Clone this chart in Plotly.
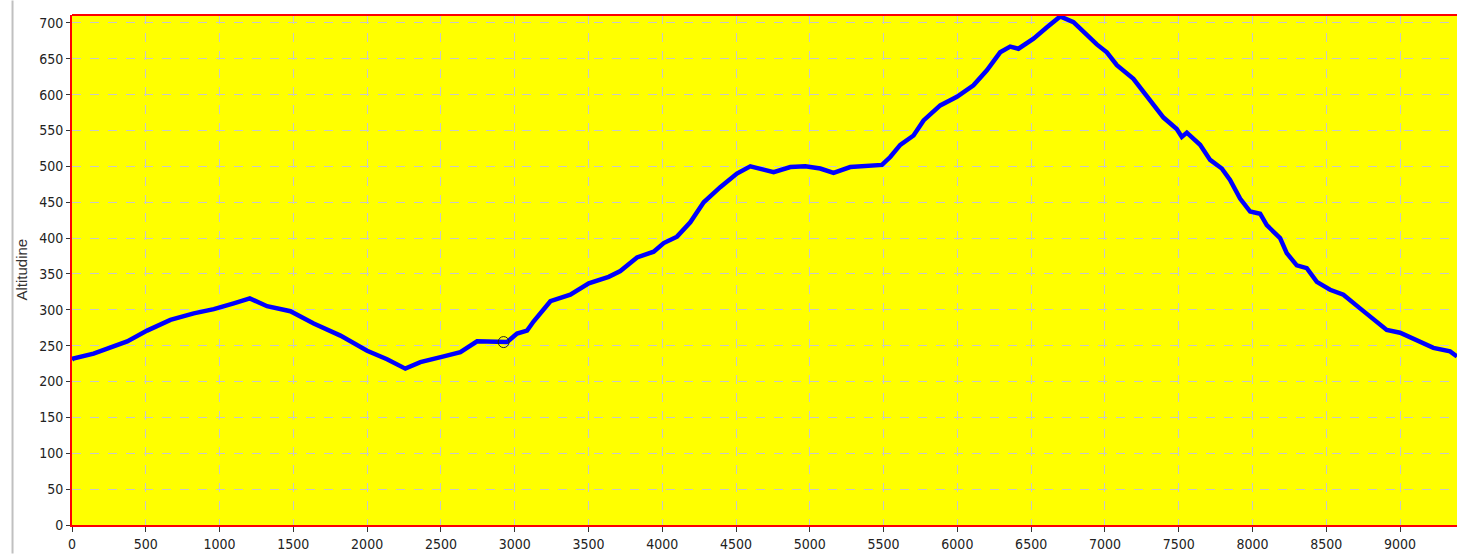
import plotly.graph_objects as go

distance = [0, 8, 146, 261, 374, 509, 667, 825, 961, 1096, 1205, 1322, 1480, 1638, 1819,
            2000, 2135, 2259, 2361, 2519, 2632, 2745, 2857, 2948, 3016, 3084, 3129, 3242,
            3377, 3502, 3637, 3716, 3829, 3942, 4010, 4100, 4190, 4281, 4393, 4506, 4597,
            4755, 4868, 4969, 5071, 5161, 5274, 5387, 5489, 5545, 5613, 5703, 5771, 5884,
            5997, 6109, 6200, 6290, 6358, 6414, 6516, 6607, 6697, 6787, 6878, 6945, 7013,
            7081, 7193, 7284, 7397, 7487, 7521, 7555, 7645, 7713, 7792, 7848, 7916, 7984,
            8052, 8097, 8187, 8232, 8300, 8368, 8436, 8526, 8616, 8729, 8842, 8910, 9000,
            9113, 9226, 9339, 9386]
altitude = [230, 232, 239, 247, 256, 271, 286, 295, 301, 309, 316, 305, 298, 281, 264,
            243, 231, 218, 227, 235, 241, 256, 256, 255, 267, 271, 284, 312,
            321, 337, 346, 354, 373, 381, 393, 402, 422, 450, 471, 490, 500,
            492, 499, 500, 497, 491, 499, 501, 502, 513, 530, 543, 564, 585,
            597, 613, 634, 659, 667, 664, 678, 694, 709, 701, 682, 670, 659,
            641, 622, 597, 568, 552, 541, 547, 530, 509, 497, 481, 455, 437,
            434, 418, 400, 379, 362, 358, 339, 328, 321, 302, 284, 272, 268,
            258, 247, 242, 235]

cursor_x = [2925]
cursor_y = [255]

x_ticks = list(range(0, 9001, 500))
y_ticks = list(range(0, 701, 50))

tick_font = dict(family="DejaVu Sans Condensed, Liberation Sans, sans-serif",
                 size=14, color="#222222")

fig = go.Figure()
fig.add_trace(go.Scatter(x=distance, y=altitude, mode="lines",
                         line=dict(color="#0000ff", width=4.5), showlegend=False))
fig.add_trace(go.Scatter(x=cursor_x, y=cursor_y, mode="markers",
                         marker=dict(symbol="circle-open", size=11, color="#222222",
                                     line=dict(width=1, color="#222222")),
                         showlegend=False))

fig.update_layout(
    width=1457, height=554,
    margin=dict(l=71.5, r=0, t=14.5, b=28.5),
    paper_bgcolor="white",
    plot_bgcolor="#ffff00",
    xaxis=dict(range=[0, 9386], tickvals=x_ticks, ticktext=[str(v) for v in x_ticks],
               ticks="outside", ticklen=5, tickcolor="#333333", tickfont=tick_font,
               showgrid=True, gridcolor="#c8c8c8", griddash="dash", gridwidth=1,
               showline=True, linecolor="#ff0000", linewidth=2, mirror=False,
               zeroline=False),
    yaxis=dict(range=[0, 711], tickvals=y_ticks, ticktext=[str(v) for v in y_ticks],
               ticks="outside", ticklen=4, tickcolor="#333333", tickfont=tick_font,
               showgrid=True, gridcolor="#c8c8c8", griddash="dash", gridwidth=1,
               showline=True, linecolor="#ff0000", linewidth=2, mirror=False,
               zeroline=False),
    annotations=[dict(text="Altitudine", textangle=-90, xref="paper", yref="paper",
                      x=(20 - 71.5) / 1385.5, y=0.5, xanchor="center", yanchor="middle",
                      showarrow=False,
                      font=dict(family="Liberation Sans, Arial, sans-serif", size=15,
                                color="#333333"))],
    shapes=[dict(type="line", xref="paper", yref="paper",
                 x0=(12 - 71.5) / 1385.5, x1=(12 - 71.5) / 1385.5,
                 y0=-28.5 / 511, y1=1 + 14.5 / 511,
                 line=dict(color="#c0c0c0", width=2)),
            dict(type="line", xref="paper", yref="paper", x0=0, x1=1, y0=1, y1=1,
                 line=dict(color="#ff0000", width=2))],
)

fig.write_html("out.html", config={"displayModeBar": False},
               post_script="document.body.style.margin='0';")
